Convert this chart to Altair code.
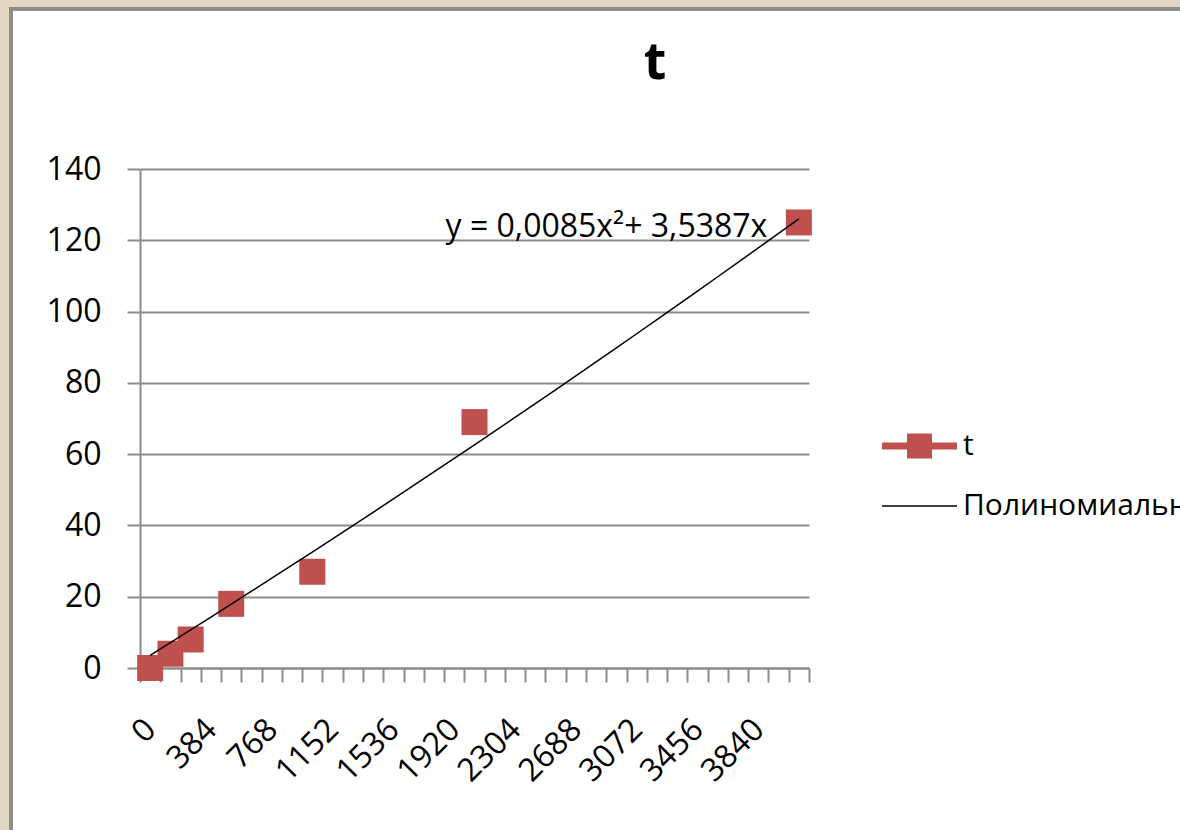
import altair as alt
import pandas as pd

# ---- data ----
categories = [0, 128, 256, 384, 512, 640, 768, 896, 1024, 1152, 1280, 1408,
              1536, 1664, 1792, 1920, 2048, 2176, 2304, 2432, 2560, 2688,
              2816, 2944, 3072, 3200, 3328, 3456, 3584, 3712, 3840, 3968, 4096]
point_x = [0, 128, 256, 512, 1024, 2048, 4096]
point_t = [0, 4, 8, 18, 27, 69, 125]
y_ticks = [0, 20, 40, 60, 80, 100, 120, 140]
trend_a = 0.0085
trend_b = 3.5387
trend_label = "y = 0,0085x²+ 3,5387x"
legend_names = ["t", "Полиномиальная (t)"]
title_text = "t"

FONT = "Open Sans"
RED = "#C0504D"
GRID = "#8c8c8c"
BEIGE = "#E3D7C4"

points_df = pd.DataFrame({"x": point_x, "t": point_t})
trend_df = pd.DataFrame({"x": categories, "n": list(range(1, len(categories) + 1))})
label_df = pd.DataFrame({"x": [3840], "t": [120], "label": [trend_label]})
legend_df = pd.DataFrame({"x": [0, 0], "t": [0, 0], "series": legend_names})

xscale = alt.Scale(type="band", domain=categories, paddingInner=0, paddingOuter=0)
yscale = alt.Scale(domain=[0, 140], nice=False, zero=True)

xaxis = alt.Axis(
    title=None, grid=False, tickBand="extent", tickSize=14, tickColor=GRID,
    tickWidth=2, domainColor=GRID, domainWidth=2, labelAngle=-45,
    labelAlign="right", labelBaseline="middle", labelOverlap=False,
    labelExpr="datum.value % 384 === 0 ? datum.label : ''",
    labelPadding=42, labelFont=FONT, labelFontSize=32, labelColor="black",
    zindex=0,
)
yaxis = alt.Axis(
    title=None, values=y_ticks, grid=True, gridColor=GRID, gridWidth=2,
    tickSize=13, tickColor=GRID, tickWidth=2, domainColor=GRID, domainWidth=2,
    labelPadding=26, labelFont=FONT, labelFontSize=32, labelColor="black",
    zindex=0,
)

# decorative frame (slide background strip + chart border), drawn as lines
frame_data = alt.Data(values=[{"k": 1}])
beige_top = alt.Chart(frame_data).mark_rule(color=BEIGE, strokeWidth=7).encode(
    x=alt.value(-140), x2=alt.value(1040), y=alt.value(-165.5)
)
beige_left = alt.Chart(frame_data).mark_rule(color=BEIGE, strokeWidth=9).encode(
    x=alt.value(-135.5), y=alt.value(-169), y2=alt.value(661)
)
gray_top = alt.Chart(frame_data).mark_rule(color="#8d8d8d", strokeWidth=4).encode(
    x=alt.value(-131), x2=alt.value(1040), y=alt.value(-160)
)
gray_left = alt.Chart(frame_data).mark_rule(color="#8d8d8d", strokeWidth=4).encode(
    x=alt.value(-129), y=alt.value(-162), y2=alt.value(661)
)

title_mark = alt.Chart(frame_data).mark_text(
    font=FONT, fontSize=52, fontWeight="bold", color="black",
    align="center", baseline="alphabetic"
).encode(x=alt.value(515), y=alt.value(-90), text=alt.value(title_text))

points = alt.Chart(points_df).mark_point(
    shape="square", filled=True, size=676, color=RED, opacity=1
).encode(
    x=alt.X("x:O", scale=xscale, axis=xaxis),
    y=alt.Y("t:Q", scale=yscale, axis=yaxis),
)

trend = alt.Chart(trend_df).transform_calculate(
    fit=f"{trend_a}*datum.n*datum.n + {trend_b}*datum.n"
).mark_line(color="black", strokeWidth=1.5).encode(
    x=alt.X("x:O", scale=xscale),
    y=alt.Y("fit:Q", scale=yscale),
)

eq_text = alt.Chart(label_df).mark_text(
    align="right", baseline="alphabetic", dx=9, dy=-3,
    font=FONT, fontSize=32, color="black"
).encode(
    x=alt.X("x:O", scale=xscale),
    y=alt.Y("t:Q", scale=yscale),
    text="label:N",
)

path_t = "M-1.5,-0.14H-0.5V-0.5H0.5V-0.14H1.5V0.14H0.5V0.5H-0.5V0.14H-1.5Z"
path_trend = "M-1.5,-0.03H1.5V0.03H-1.5Z"

leg = alt.Legend(
    title=None, orient="none", legendX=754.5, legendY=252, padding=0,
    symbolSize=2500, symbolStrokeWidth=0, symbolOpacity=1, labelOffset=18.5,
    rowPadding=20, labelFont=FONT, labelFontSize=30, labelColor="black",
    labelLimit=600,
)

legend_layer = alt.Chart(legend_df).transform_filter("false").mark_point(
    filled=True, opacity=1
).encode(
    x=alt.X("x:O", scale=xscale),
    y=alt.Y("t:Q", scale=yscale),
    color=alt.Color("series:N", scale=alt.Scale(domain=legend_names, range=[RED, "black"]), legend=leg),
    shape=alt.Shape("series:N", scale=alt.Scale(domain=legend_names, range=[path_t, path_trend]), legend=leg),
)

chart = alt.layer(
    beige_top, beige_left, gray_top, gray_left, title_mark,
    points, trend, eq_text, legend_layer
).properties(
    width=669, height=499,
    autosize=alt.AutoSizeParams(type="none"),
    padding={"left": 140, "top": 169, "right": 371, "bottom": 162},
).configure(
    background="white",
).configure_view(stroke=None)

chart.save("out.html", embed_options={"renderer": "svg", "actions": False})
